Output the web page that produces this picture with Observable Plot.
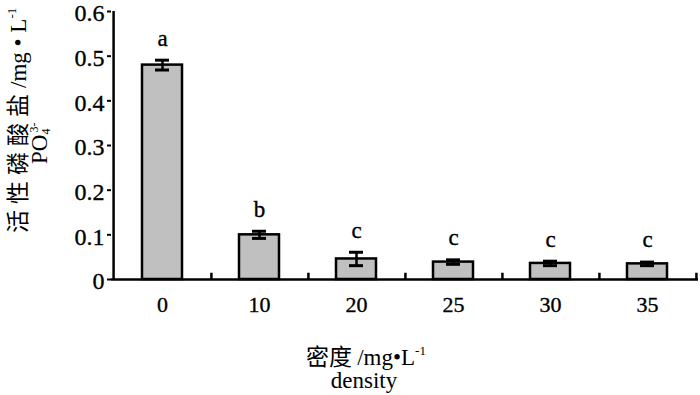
<!DOCTYPE html>
<html>
<head>
<meta charset="utf-8">
<script src="https://cdn.jsdelivr.net/npm/d3@7"></script>
<script src="https://cdn.jsdelivr.net/npm/@observablehq/plot@0.6"></script>
<style>
  html, body { margin: 0; padding: 0; background: #fff; }
  svg { display: block; }
</style>
</head>
<body>
<div id="chart"></div>
<script>
const categories = ["0", "10", "20", "25", "30", "35"];
const means = [0.48, 0.10, 0.046, 0.039, 0.036, 0.035];
const errors = [0.011, 0.008, 0.015, 0.005, 0.005, 0.004];
const letters = ["a", "b", "c", "c", "c", "c"];
const yTicks = [0, 0.1, 0.2, 0.3, 0.4, 0.5, 0.6];

const data = categories.map((c, i) => ({
  cat: c, mean: means[i], lo: means[i] - errors[i], hi: means[i] + errors[i], letter: letters[i]
}));

const W = 700, H = 395, ML = 111, MR = 2, MT = 11, MB = 116;
const step = (W - ML - MR) / categories.length;
const serif = "'Liberation Serif', 'Times New Roman', serif";
const cjk = "'Noto Sans CJK SC', 'Liberation Serif', serif";
const fmtY = d => d === 0 ? "0" : d.toFixed(1);

const svg = Plot.plot({
  width: W, height: H,
  marginLeft: ML, marginRight: MR, marginTop: MT, marginBottom: MB,
  style: { fontFamily: serif, fontSize: "22px", color: "#000", background: "#fff" },
  x: { domain: categories, paddingInner: 0.59, paddingOuter: 0.295, label: null },
  y: { domain: [0, 0.6], label: null },
  marks: [
    Plot.barY(data, { x: "cat", y: "mean", fill: "#c0c0c0", stroke: "#000", strokeWidth: 2.5 }),
    Plot.ruleX(data, { x: "cat", y1: "lo", y2: "hi", stroke: "#000", strokeWidth: 2.5 }),
    Plot.tickY(data, { x: "cat", y: "lo", inset: 13, stroke: "#000", strokeWidth: 3 }),
    Plot.tickY(data, { x: "cat", y: "hi", inset: 13, stroke: "#000", strokeWidth: 3 }),
    Plot.text(data, { x: "cat", y: "hi", text: "letter", dy: -22, fontSize: 23, fill: "#000" }),
    Plot.ruleX(categories, { x: d => d, y1: 0, y2: 0.014, dx: step / 2, stroke: "#000", strokeWidth: 2.5 }),
    Plot.ruleX([categories[0]], { x: d => d, y1: 0, y2: 0.6, dx: -step / 2, stroke: "#000", strokeWidth: 2.5 }),
    Plot.ruleY([0], { stroke: "#000", strokeWidth: 2.5 }),
    Plot.axisY({ ticks: yTicks, tickSize: 4, strokeWidth: 2, tickFormat: () => "", label: null }),
    Plot.text(yTicks, { y: d => d, text: fmtY, frameAnchor: "left", textAnchor: "end", dx: -7, dy: 2, fontSize: 24, fill: "#000" }),
    Plot.axisX({ tickSize: 0, tickPadding: 17, label: null })
  ]
});

document.getElementById("chart").appendChild(svg);

const s = d3.select(svg);
// Serif, slightly heavier text for all Plot-generated labels
s.selectAll("text").filter(function () { return this.textContent !== ""; })
  .style("font-family", serif)
  .style("fill", "#000")
  .style("stroke", "#000")
  .style("stroke-width", "0.35px");

// Y axis title (rotated, two lines)
const yt1 = s.append("text")
  .attr("transform", "translate(26,233) rotate(-90)")
  .attr("text-anchor", "start")
  .attr("fill", "#000");
yt1.append("tspan").attr("font-family", cjk).attr("font-size", 23).attr("letter-spacing", 6).text("活性磷酸盐");
yt1.append("tspan").attr("font-family", serif).attr("font-size", 23).text("/mg • L");
yt1.append("tspan").attr("font-family", serif).attr("font-size", 13).attr("dy", -10).text("-1");

const yt2 = s.append("text")
  .attr("transform", "translate(47,164) rotate(-90)")
  .attr("text-anchor", "start")
  .attr("fill", "#000");
yt2.append("tspan").attr("font-family", serif).attr("font-size", 23).text("PO");
yt2.append("tspan").attr("font-family", serif).attr("font-size", 12).attr("dy", 3).text("4");
yt2.append("tspan").attr("font-family", serif).attr("font-size", 12).attr("dx", -4).attr("dy", -12).text("3-");

// X axis title
const xt1 = s.append("text")
  .attr("x", 366).attr("y", 365)
  .attr("text-anchor", "middle")
  .attr("fill", "#000");
xt1.append("tspan").attr("font-family", cjk).attr("font-size", 23).text("密度 ");
xt1.append("tspan").attr("font-family", serif).attr("font-size", 23).text("/mg•L");
xt1.append("tspan").attr("font-family", serif).attr("font-size", 13).attr("dy", -10).text("-1");

s.append("text")
  .attr("x", 364).attr("y", 388)
  .attr("text-anchor", "middle")
  .attr("font-family", serif).attr("font-size", 23)
  .attr("fill", "#000")
  .text("density");
</script>
</body>
</html>
